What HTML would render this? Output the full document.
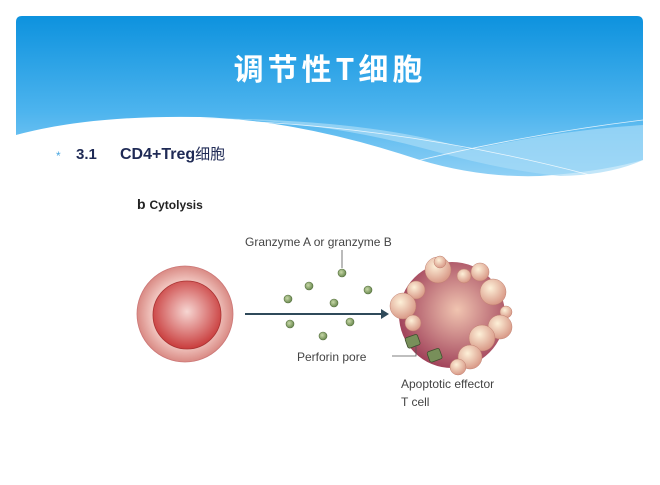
<!DOCTYPE html>
<html><head><meta charset="utf-8"><style>
body{margin:0;width:660px;height:480px;background:#fff;overflow:hidden;font-family:"Liberation Sans","Noto Sans CJK SC",sans-serif}
</style></head><body>
<svg width="660" height="480" xmlns="http://www.w3.org/2000/svg">
<defs>
<linearGradient id="hg" x1="0" y1="0" x2="0" y2="1">
<stop offset="0" stop-color="#0d92de"/><stop offset="0.6" stop-color="#4db4ee"/><stop offset="1" stop-color="#8fd0f5"/></linearGradient>
<radialGradient id="rc" cx="0.5" cy="0.45" r="0.55"><stop offset="0" stop-color="#f6d6d2"/><stop offset="1" stop-color="#c93c3c"/></radialGradient>
<radialGradient id="rco" cx="0.5" cy="0.5" r="0.5"><stop offset="0.7" stop-color="#f0c3bd"/><stop offset="1" stop-color="#d98a84"/></radialGradient>
<radialGradient id="pc" cx="0.55" cy="0.45" r="0.6"><stop offset="0" stop-color="#f0c4b0"/><stop offset="1" stop-color="#9c3a55"/></radialGradient>
<radialGradient id="bl" cx="0.4" cy="0.35" r="0.65"><stop offset="0" stop-color="#fdf0d8"/><stop offset="1" stop-color="#d99a88"/></radialGradient>
<radialGradient id="gd" cx="0.4" cy="0.4" r="0.6"><stop offset="0" stop-color="#c8d8a8"/><stop offset="1" stop-color="#6b8a50"/></radialGradient>
</defs>
<path d="M22 16 H637 Q643 16 643 22 V160 Q600 172 540 176 Q480 178 420 160 Q300 120 200 117 Q90 115 16 135 V22 Q16 16 22 16 Z" fill="url(#hg)"/>
<path d="M200 118 Q320 120 430 150 Q500 170 560 176 Q610 175 643 160 V125 Q560 130 470 150 Q380 120 200 118 Z" fill="#a8dbf7" opacity="0.7"/>
<path d="M210 120 Q400 125 590 175" stroke="#fff" stroke-width="0.8" fill="none" opacity="0.8"/>
<path d="M400 165 Q520 135 643 120" stroke="#fff" stroke-width="0.8" fill="none" opacity="0.8"/>
<text x="330" y="80" text-anchor="middle" fill="#fff" font-size="30" font-weight="bold" font-family="'Noto Sans CJK SC',sans-serif" letter-spacing="4">调节性T细胞</text>
<text x="56" y="160" fill="#4aa7e0" font-size="12">*</text>
<text x="76" y="159" fill="#1f2a55" font-size="15" font-weight="bold">3.1</text>
<text x="120" y="159" fill="#1f2a55" font-size="16" font-weight="bold">CD4+Treg<tspan font-weight="normal" font-size="15">细胞</tspan></text>
<text x="137" y="209" fill="#222" font-size="14" font-weight="bold">b <tspan font-size="12">Cytolysis</tspan></text>
<circle cx="185" cy="314" r="48" fill="url(#rco)" stroke="#c77" stroke-width="0.8"/>
<circle cx="187" cy="315" r="34" fill="url(#rc)" stroke="#a33" stroke-width="0.8"/>
<line x1="245" y1="314" x2="382" y2="314" stroke="#2f4a5a" stroke-width="2"/>
<path d="M381 309 L389 314 L381 319 Z" fill="#2f4a5a"/>
<text x="245" y="246" fill="#444" font-size="12">Granzyme A or granzyme B</text>
<line x1="342" y1="250" x2="342" y2="268" stroke="#555" stroke-width="0.8"/>
<g fill="url(#gd)" stroke="#56703f" stroke-width="0.6">
<circle cx="342" cy="273" r="4"/><circle cx="309" cy="286" r="4"/><circle cx="368" cy="290" r="4"/><circle cx="288" cy="299" r="4"/><circle cx="334" cy="303" r="4"/><circle cx="290" cy="324" r="4"/><circle cx="350" cy="322" r="4"/><circle cx="323" cy="336" r="4"/>
</g>
<circle cx="452" cy="315" r="53" fill="url(#pc)"/>
<g fill="url(#bl)" stroke="#c08070" stroke-width="0.5">
<circle cx="438" cy="270" r="13"/><circle cx="440" cy="262" r="6"/><circle cx="464" cy="276" r="7"/><circle cx="480" cy="272" r="9"/><circle cx="493" cy="292" r="13"/><circle cx="506" cy="312" r="6"/><circle cx="500" cy="327" r="12"/><circle cx="482" cy="338" r="13"/><circle cx="470" cy="357" r="12"/><circle cx="458" cy="367" r="8"/><circle cx="416" cy="290" r="9"/><circle cx="403" cy="306" r="13"/><circle cx="413" cy="323" r="8"/>
</g>
<g fill="#788f5a" stroke="#3e4f2e" stroke-width="0.8">
<rect x="406" y="336" width="13" height="11" rx="2" transform="rotate(-20 412 341)"/>
<rect x="428" y="350" width="13" height="11" rx="2" transform="rotate(-20 434 355)"/>
</g>
<text x="297" y="361" fill="#444" font-size="12">Perforin pore</text>
<path d="M392 356 H416 V345" stroke="#555" stroke-width="0.8" fill="none"/>
<text x="401" y="388" fill="#444" font-size="12">Apoptotic effector</text>
<text x="401" y="406" fill="#444" font-size="12">T cell</text>
</svg>
</body></html>
